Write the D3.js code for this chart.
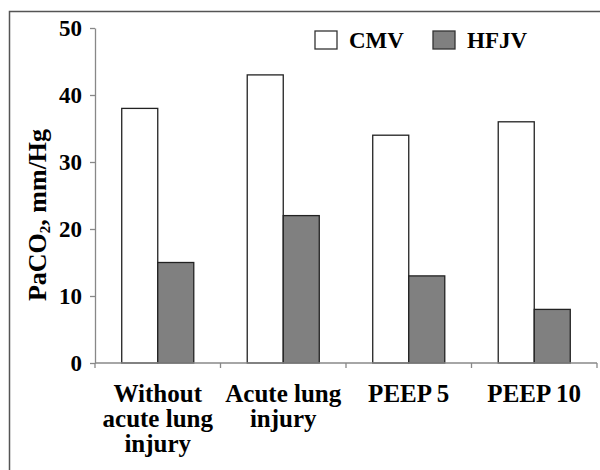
<!DOCTYPE html>
<html><head><meta charset="utf-8">
<script src="https://cdn.jsdelivr.net/npm/d3@7"></script>
<style>body{margin:0;background:#fff}svg{display:block}text{font-family:"Liberation Serif","Times New Roman",serif;font-weight:bold;fill:#000}</style>
</head><body>
<script>
const categories = ["Without acute lung injury","Acute lung injury","PEEP 5","PEEP 10"];
const categoryLines = [["Without","acute lung","injury"],["Acute lung","injury"],["PEEP 5"],["PEEP 10"]];
const seriesNames = ["CMV","HFJV"];
const cmvValues = [38,43,34,36];
const hfjvValues = [15,22,13,8];
const yTicks = [0,10,20,30,40,50];
const seriesFill = ["#ffffff","#808080"];

const W=600,H=470;
const svg=d3.select("body").append("svg").attr("width",W).attr("height",H);
// frame
svg.append("path").attr("d",`M9.5,${H} L9.5,11.5 L${W},11.5`).attr("fill","none").attr("stroke","#555").attr("stroke-width",1.5);

const x0=95,x1=597,yTop=28,yBot=363;
const x=d3.scaleBand().domain(categories).range([x0,x1]).paddingInner(0.426).paddingOuter(0.213);
const xs=d3.scaleBand().domain(seriesNames).range([0,x.bandwidth()]);
const y=d3.scaleLinear().domain([0,50]).range([yBot,yTop]);

const data=[cmvValues,hfjvValues];
seriesNames.forEach((s,si)=>{
  svg.append("g").selectAll("rect").data(categories).join("rect")
    .attr("x",c=>x(c)+xs(s)).attr("width",xs.bandwidth())
    .attr("y",(c,i)=>y(data[si][i])).attr("height",(c,i)=>yBot-y(data[si][i]))
    .attr("fill",seriesFill[si]).attr("stroke","#222").attr("stroke-width",1.3);
});

// y axis
const ya=svg.append("g").attr("transform",`translate(${x0},0)`)
  .call(d3.axisLeft(y).tickValues(yTicks).tickSize(5).tickSizeOuter(0).tickPadding(8));
ya.select(".domain").attr("stroke","#888").attr("stroke-width",1.3);
ya.selectAll(".tick line").attr("stroke","#888").attr("stroke-width",1.3);
ya.selectAll(".tick text").attr("font-size",23).attr("fill","#000").attr("dy","0.33em");

// x axis line and ticks at category boundaries
const bounds=d3.range(categories.length+1).map(i=>x0+i*(x1-x0)/categories.length);
svg.append("line").attr("x1",x0).attr("x2",x1).attr("y1",yBot).attr("y2",yBot).attr("stroke","#888").attr("stroke-width",1.3);
svg.selectAll(".xt").data(bounds).join("line").attr("x1",d=>d).attr("x2",d=>d).attr("y1",yBot).attr("y2",yBot+5).attr("stroke","#888").attr("stroke-width",1.3);

// category labels
categories.forEach((c,i)=>{
  const cx=x(c)+x.bandwidth()/2;
  const t=svg.append("text").attr("text-anchor","middle").attr("font-size",25).attr("x",cx).attr("y",402);
  categoryLines[i].forEach((ln,j)=>t.append("tspan").attr("x",cx).attr("y",402+j*25).text(ln));
});

// y label
const yl=svg.append("text").attr("text-anchor","middle").attr("font-size",26)
  .attr("transform","translate(46,215) rotate(-90)");
yl.append("tspan").text("PaCO");
yl.append("tspan").attr("font-size",15).attr("dy",4).text("2");
yl.append("tspan").attr("dy",-4).text(", mm/Hg");

// legend
const lx=[315,433];
seriesNames.forEach((s,i)=>{
  svg.append("rect").attr("x",lx[i]).attr("y",31).attr("width",22).attr("height",18).attr("fill",seriesFill[i]).attr("stroke","#333").attr("stroke-width",1.3);
  svg.append("text").attr("x",lx[i]+34).attr("y",48).attr("font-size",23).text(s);
});
</script>
</body></html>
